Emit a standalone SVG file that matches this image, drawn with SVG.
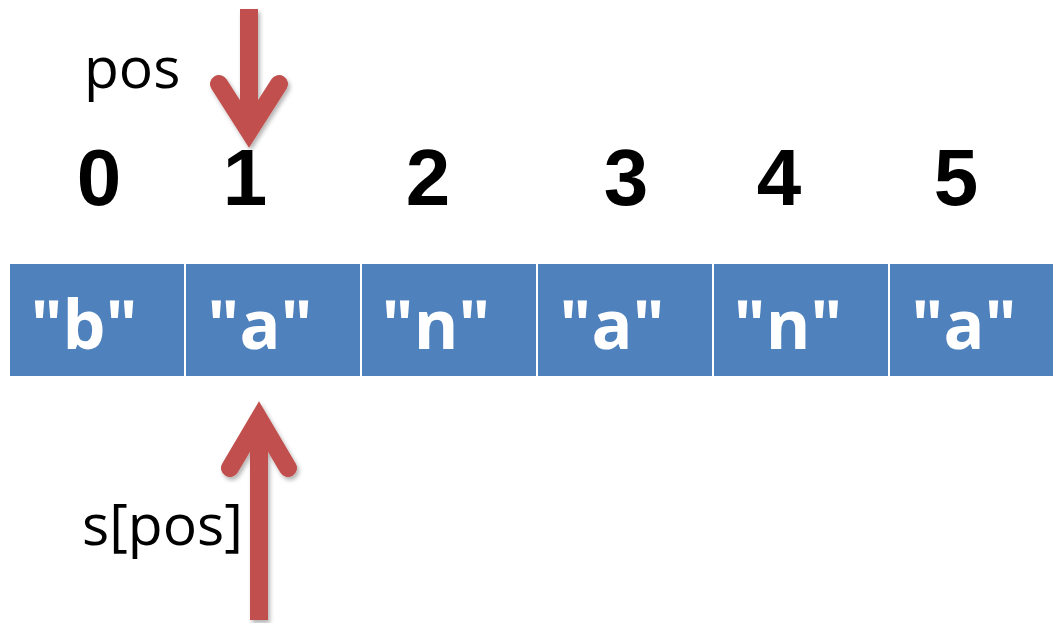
<svg xmlns="http://www.w3.org/2000/svg" width="1053" height="623" viewBox="0 0 1053 623">
  <defs>
    <style>
      .cell { fill: #4F81BD; }
      .val { font-family: "Open Sans", "Liberation Sans", sans-serif; font-weight: 700; font-size: 68px; fill: #FFFFFF; text-anchor: middle; }
      .idx { font-family: "Liberation Sans", Arial, sans-serif; font-weight: 700; font-size: 80px; fill: #000000; text-anchor: middle; }
      .lbl { font-family: "Open Sans", "Liberation Sans", sans-serif; font-size: 57px; fill: #000000; }
      .arrow { fill: none; stroke: #C0504D; stroke-width: 18; }
      .head { stroke-linecap: round; stroke-linejoin: miter; stroke-miterlimit: 4; }
    </style>
    <filter id="shadow" x="-30%" y="-10%" width="160%" height="130%">
      <feDropShadow dx="2" dy="3" stdDeviation="2" flood-color="#000000" flood-opacity="0.3"/>
    </filter>
  </defs>
  <rect width="1053" height="623" fill="#FFFFFF"/>

  <g id="labels">
    <text id="label-pos" class="lbl" x="84" y="88">pos</text>
    <text id="label-spos" class="lbl" x="82" y="545">s[pos]</text>
  </g>

  <g id="indices">
    <text id="idx-0" class="idx" x="99" y="205">0</text>
    <text id="idx-1" class="idx" x="245" y="205">1</text>
    <text id="idx-2" class="idx" x="428" y="205">2</text>
    <text id="idx-3" class="idx" x="626" y="205">3</text>
    <text id="idx-4" class="idx" x="779" y="205">4</text>
    <text id="idx-5" class="idx" x="956" y="205">5</text>
  </g>

  <g id="cell-0"><rect class="cell" x="10" y="264" width="174" height="112"/><text class="val" x="84" y="349">"b"</text></g>
  <g id="cell-1"><rect class="cell" x="186" y="264" width="174" height="112"/><text class="val" x="260" y="349">"a"</text></g>
  <g id="cell-2"><rect class="cell" x="362" y="264" width="174" height="112"/><text class="val" x="436" y="349">"n"</text></g>
  <g id="cell-3"><rect class="cell" x="538" y="264" width="174" height="112"/><text class="val" x="612" y="349">"a"</text></g>
  <g id="cell-4"><rect class="cell" x="714" y="264" width="174" height="112"/><text class="val" x="788" y="349">"n"</text></g>
  <g id="cell-5"><rect class="cell" x="890" y="264" width="174" height="112"/><text class="val" x="964" y="349">"a"</text></g>

  <g id="connectors">
    <g id="arrow-pos" filter="url(#shadow)">
      <line class="arrow" x1="249" y1="9" x2="249" y2="128"/>
      <path class="arrow head" d="M 219 84 L 249 131 L 279 84"/>
    </g>
    <g id="arrow-spos" filter="url(#shadow)">
      <line class="arrow" x1="259" y1="620" x2="259" y2="422"/>
      <path class="arrow head" d="M 230 468 L 259 419 L 288 468"/>
    </g>
  </g>
</svg>
